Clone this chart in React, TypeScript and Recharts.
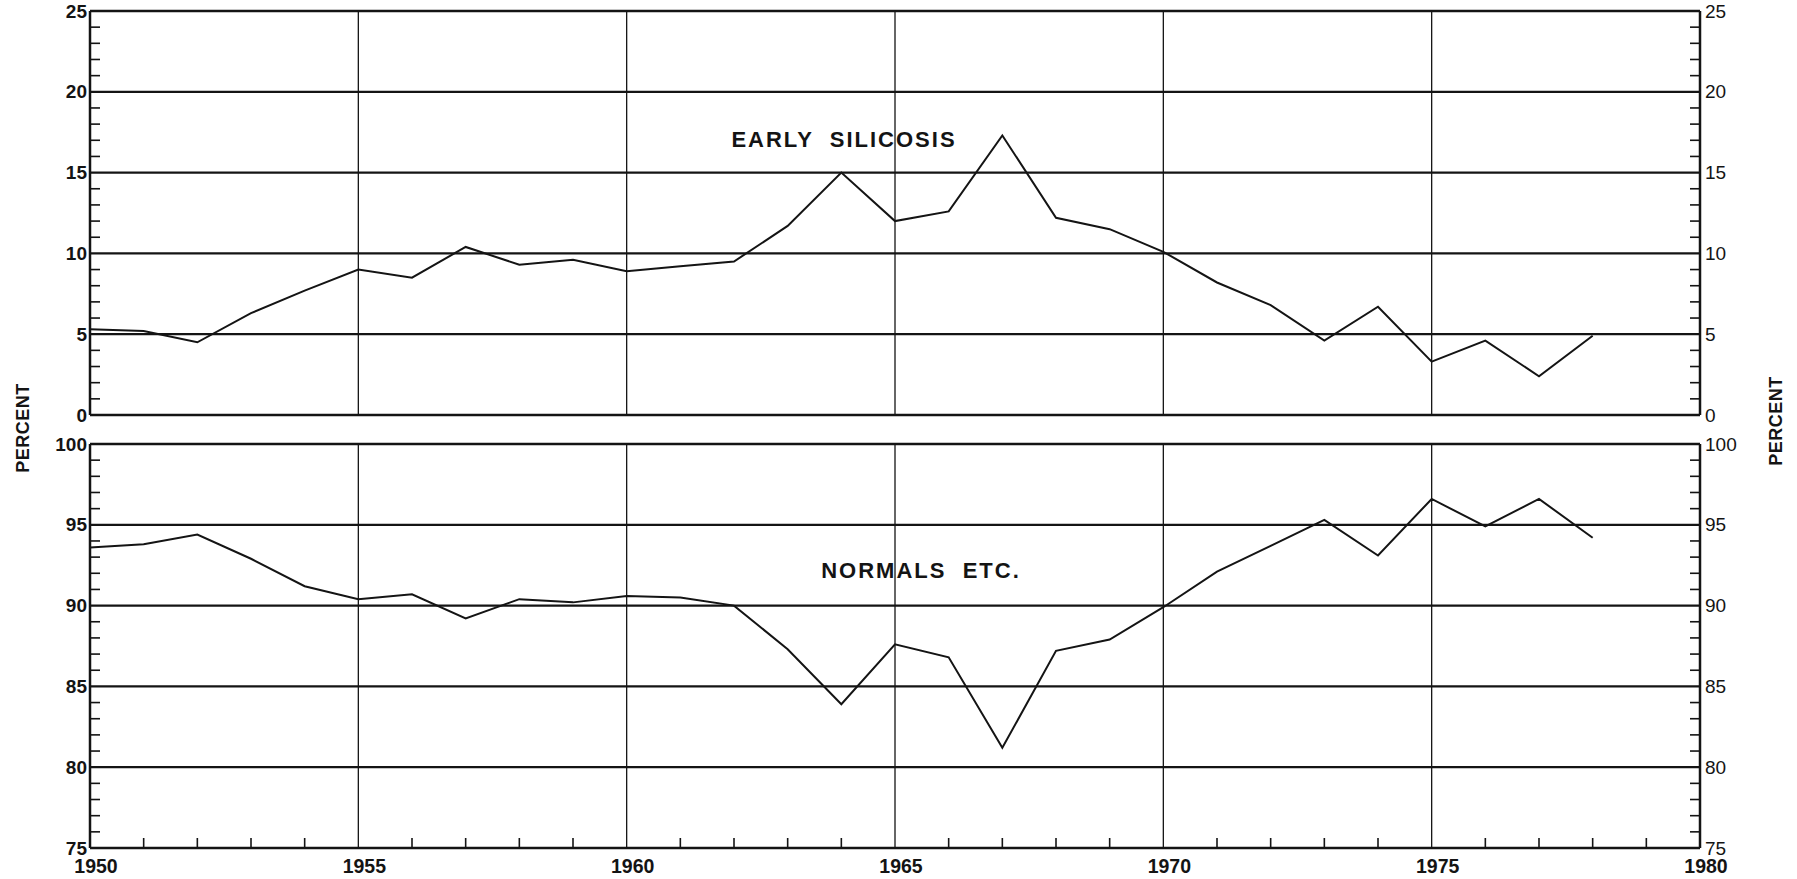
import { LineChart, Line, XAxis, YAxis, ReferenceLine } from 'recharts';

// years on the x axis
const years = [
  1950, 1951, 1952, 1953, 1954, 1955, 1956, 1957, 1958, 1959,
  1960, 1961, 1962, 1963, 1964, 1965, 1966, 1967, 1968, 1969,
  1970, 1971, 1972, 1973, 1974, 1975, 1976, 1977, 1978,
];

// percent
const earlySilicosis = [
  5.3, 5.2, 4.5, 6.3, 7.7, 9.0, 8.5, 10.4, 9.3, 9.6,
  8.9, 9.2, 9.5, 11.7, 15.0, 12.0, 12.6, 17.3, 12.2, 11.5,
  10.1, 8.2, 6.8, 4.6, 6.7, 3.3, 4.6, 2.4, 4.9,
];

const normals = [
  93.6, 93.8, 94.4, 92.9, 91.2, 90.4, 90.7, 89.2, 90.4, 90.2,
  90.6, 90.5, 90.0, 87.3, 83.9, 87.6, 86.8, 81.2, 87.2, 87.9,
  89.9, 92.1, 93.7, 95.3, 93.1, 96.6, 94.9, 96.6, 94.2,
];

// axis ticks (every year / every percent, labels only on the fives)
const yearTicks = [
  1950, 1951, 1952, 1953, 1954, 1955, 1956, 1957, 1958, 1959, 1960,
  1961, 1962, 1963, 1964, 1965, 1966, 1967, 1968, 1969, 1970,
  1971, 1972, 1973, 1974, 1975, 1976, 1977, 1978, 1979, 1980,
];
const topTicks = [0, 1, 2, 3, 4, 5, 6, 7, 8, 9, 10, 11, 12, 13, 14, 15, 16, 17, 18, 19, 20, 21, 22, 23, 24, 25];
const bottomTicks = [75, 76, 77, 78, 79, 80, 81, 82, 83, 84, 85, 86, 87, 88, 89, 90, 91, 92, 93, 94, 95, 96, 97, 98, 99, 100];

const topGrid = [0, 5, 10, 15, 20, 25];
const bottomGrid = [75, 80, 85, 90, 95, 100];
const yearGrid = [1955, 1960, 1965, 1970, 1975];

const INK = '#141414';
const FONT = '"Liberation Sans", Arial, Helvetica, sans-serif';

const LeftTick = (props: any) => {
  const { x, y, payload } = props;
  const v = payload.value;
  if (v % 5 === 0) {
    return (
      <text x={x - 3} y={y} dy={6.5} textAnchor="end" fontSize={19} fontWeight="bold" fontFamily={FONT} fill={INK}>
        {v}
      </text>
    );
  }
  return <line x1={x} y1={y} x2={x + 10} y2={y} stroke={INK} strokeWidth={1.6} />;
};

const RightTick = (props: any) => {
  const { x, y, payload } = props;
  const v = payload.value;
  if (v % 5 === 0) {
    return (
      <text x={x + 5} y={y} dy={6.5} textAnchor="start" fontSize={19} fontFamily={FONT} fill={INK}>
        {v}
      </text>
    );
  }
  return <line x1={x} y1={y} x2={x - 10} y2={y} stroke={INK} strokeWidth={1.6} />;
};

const YearTick = (props: any) => {
  const { x, y, payload } = props;
  const v = payload.value;
  if (v % 5 === 0) {
    return (
      <text x={x + 6} y={y + 25} textAnchor="middle" fontSize={19.5} fontWeight="bold" fontFamily={FONT} fill={INK}>
        {v}
      </text>
    );
  }
  return <line x1={x} y1={y} x2={x} y2={y - 10} stroke={INK} strokeWidth={1.6} />;
};

function Panel({ values, domain, ticks, grid, height, margin, showYears }: any) {
  const data = years.map((year, i) => ({ year, value: values[i] }));
  return (
    <LineChart width={1797} height={height} data={data} margin={margin}>
      <XAxis
        dataKey="year"
        type="number"
        domain={[1950, 1980]}
        ticks={yearTicks}
        interval={0}
        hide={!showYears}
        height={31}
        tick={YearTick}
        tickLine={false}
        tickSize={0}
        tickMargin={0}
        axisLine={false}
        allowDataOverflow
      />
      <YAxis
        yAxisId="left"
        domain={domain}
        ticks={ticks}
        interval={0}
        width={90}
        tick={LeftTick}
        tickLine={false}
        tickSize={0}
        tickMargin={0}
        axisLine={{ stroke: INK, strokeWidth: 2.5 }}
        allowDataOverflow
      />
      <YAxis
        yAxisId="right"
        orientation="right"
        domain={domain}
        ticks={ticks}
        interval={0}
        width={97}
        tick={RightTick}
        tickLine={false}
        tickSize={0}
        tickMargin={0}
        axisLine={{ stroke: INK, strokeWidth: 2.5 }}
        allowDataOverflow
      />
      {grid.map((g: number) => (
        <ReferenceLine key={'h' + g} yAxisId="left" y={g} stroke={INK} strokeWidth={2.3} />
      ))}
      {yearGrid.map((g) => (
        <ReferenceLine key={'v' + g} yAxisId="left" x={g} stroke={INK} strokeWidth={1.3} />
      ))}
      <Line
        yAxisId="left"
        type="linear"
        dataKey="value"
        stroke={INK}
        strokeWidth={2}
        dot={false}
        isAnimationActive={false}
      />
    </LineChart>
  );
}

export default function App() {
  return (
    <div style={{ position: 'absolute', left: 0, top: 0, width: 1797, height: 879, background: '#fff' }}>
      <div style={{ position: 'absolute', left: 0, top: 0 }}>
        <Panel
          values={earlySilicosis}
          domain={[0, 25]}
          ticks={topTicks}
          grid={topGrid}
          height={430}
          margin={{ top: 11, right: 0, bottom: 15, left: 0 }}
          showYears={false}
        />
      </div>
      <div style={{ position: 'absolute', left: 0, top: 430 }}>
        <Panel
          values={normals}
          domain={[75, 100]}
          ticks={bottomTicks}
          grid={bottomGrid}
          height={449}
          margin={{ top: 14, right: 0, bottom: 0, left: 0 }}
          showYears
        />
      </div>
      <svg
        width={1797}
        height={879}
        style={{ position: 'absolute', left: 0, top: 0, pointerEvents: 'none' }}
        fontFamily={FONT}
        fill={INK}
      >
        <text x={22} y={428} transform="rotate(-90 22 428)" textAnchor="middle" dy={6.5} fontSize={18} fontWeight="bold" letterSpacing={0.5}>
          PERCENT
        </text>
        <text x={1775} y={421} transform="rotate(-90 1775 421)" textAnchor="middle" dy={6.5} fontSize={18} fontWeight="bold" letterSpacing={0.5}>
          PERCENT
        </text>
        <text x={844} y={147} textAnchor="middle" fontSize={22} fontWeight="bold" letterSpacing={2} style={{ whiteSpace: 'pre' }}>
          {'EARLY  SILICOSIS'}
        </text>
        <text x={921} y={578} textAnchor="middle" fontSize={22} fontWeight="bold" letterSpacing={2} style={{ whiteSpace: 'pre' }}>
          {'NORMALS  ETC.'}
        </text>
      </svg>
    </div>
  );
}
